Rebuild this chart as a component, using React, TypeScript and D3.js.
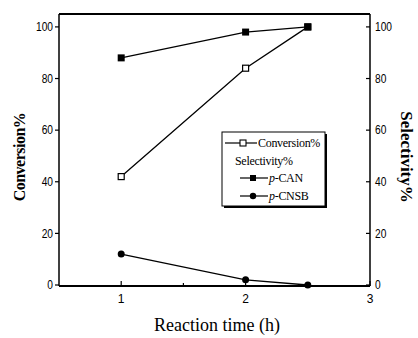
import React from "react";
import * as d3 from "d3";

const times = [1, 2, 2.5];
const conversion = [42, 84, 100];
const pCAN = [88, 98, 100];
const pCNSB = [12, 2, 0];
const yTicks = [0, 20, 40, 60, 80, 100];
const xTicks = [1, 2, 3];
const xMinor = [1.5, 2.5];

export default function App() {
  const W = 418, H = 338;
  const L = 59, R = 370, T = 14, B = 286;
  const x = d3.scaleLinear().domain([0.5, 3]).range([L, R]);
  const y = d3.scaleLinear().domain([0, 105]).range([B - 1, T]);
  const line = d3.line<number>().x((_, i) => x(times[i])).y((d) => y(d));
  const serif = "'Liberation Serif', 'Times New Roman', serif";
  const sans = "'Liberation Sans', Arial, sans-serif";
  const lg = { x: 222, y: 132, w: 103, h: 74 };
  return (
    <svg width={W} height={H} style={{ position: "absolute", left: 0, top: 0, background: "#fff" }}>
      <rect width={W} height={H} fill="#fff" />
      {/* frame */}
      <line x1={L} x2={R} y1={T} y2={T} stroke="#000" strokeWidth={2} />
      <line x1={L} x2={R} y1={B} y2={B} stroke="#000" strokeWidth={2} />
      <line x1={L} x2={L} y1={T} y2={B} stroke="#000" strokeWidth={1.5} />
      <line x1={R} x2={R} y1={T} y2={B} stroke="#000" strokeWidth={1.5} />
      {/* left ticks */}
      {yTicks.map((t) => (
        <g key={"l" + t}>
          <line x1={L - 4} x2={L} y1={y(t)} y2={y(t)} stroke="#000" strokeWidth={1.2} />
          <text x={L - 6} y={y(t)} dy="0.35em" textAnchor="end" fontFamily={sans} fontSize={12} transform={`translate(${L - 6},0) scale(0.85,1) translate(${-(L - 6)},0)`}>{t}</text>
        </g>
      ))}
      {yTicks.map((t) => (
        <g key={"r" + t}>
          <line x1={R - 4} x2={R} y1={y(t)} y2={y(t)} stroke="#000" strokeWidth={1.2} />
          <text x={R + 5} y={y(t)} dy="0.35em" textAnchor="start" fontFamily={sans} fontSize={12} transform={`translate(${R + 5},0) scale(0.85,1) translate(${-(R + 5)},0)`}>{t}</text>
        </g>
      ))}
      {xTicks.map((t) => (
        <g key={"x" + t}>
          <line x1={x(t)} x2={x(t)} y1={B} y2={B - 5} stroke="#000" strokeWidth={1.2} />
          <text x={x(t)} y={B + 17} textAnchor="middle" fontFamily={sans} fontSize={12}>{t}</text>
        </g>
      ))}
      {xMinor.map((t) => (
        <line key={"m" + t} x1={x(t)} x2={x(t)} y1={B} y2={B - 3} stroke="#000" strokeWidth={1.2} />
      ))}
      {/* lines */}
      <path d={line(conversion) || ""} fill="none" stroke="#000" strokeWidth={1.3} />
      <path d={line(pCAN) || ""} fill="none" stroke="#000" strokeWidth={1.3} />
      <path d={line(pCNSB) || ""} fill="none" stroke="#000" strokeWidth={1.3} />
      {conversion.map((v, i) => (
        <rect key={"c" + i} x={x(times[i]) - 3} y={y(v) - 3} width={6} height={6} fill="#fff" stroke="#000" strokeWidth={1.2} />
      ))}
      {pCAN.map((v, i) => (
        <rect key={"a" + i} x={x(times[i]) - 3.5} y={y(v) - 3.5} width={7} height={7} fill="#000" />
      ))}
      {pCNSB.map((v, i) => (
        <circle key={"b" + i} cx={x(times[i])} cy={y(v)} r={3.5} fill="#000" />
      ))}
      {/* legend */}
      <rect x={lg.x + 2} y={lg.y + 2} width={lg.w} height={lg.h} fill="#000" />
      <rect x={lg.x} y={lg.y} width={lg.w} height={lg.h} fill="#fff" stroke="#000" strokeWidth={1} />
      <g fontFamily={serif} fontSize={12} letterSpacing={-0.3}>
        <line x1={lg.x + 3} x2={lg.x + 35} y1={lg.y + 11} y2={lg.y + 11} stroke="#000" strokeWidth={1.2} />
        <rect x={lg.x + 18} y={lg.y + 8} width={6} height={6} fill="#fff" stroke="#000" strokeWidth={1.1} />
        <text x={lg.x + 36} y={lg.y + 15}>Conversion%</text>
        <text x={lg.x + 13} y={lg.y + 33}>Selectivity%</text>
        <line x1={lg.x + 18} x2={lg.x + 46} y1={lg.y + 46} y2={lg.y + 46} stroke="#000" strokeWidth={1.2} />
        <rect x={lg.x + 28} y={lg.y + 43} width={6} height={6} fill="#000" />
        <text x={lg.x + 47} y={lg.y + 50}><tspan fontStyle="italic">p</tspan>-CAN</text>
        <line x1={lg.x + 18} x2={lg.x + 46} y1={lg.y + 64} y2={lg.y + 64} stroke="#000" strokeWidth={1.2} />
        <circle cx={lg.x + 31} cy={lg.y + 64} r={3.2} fill="#000" />
        <text x={lg.x + 47} y={lg.y + 68}><tspan fontStyle="italic">p</tspan>-CNSB</text>
      </g>
      {/* titles */}
      <text x={217} y={331} textAnchor="middle" fontFamily={serif} fontSize={18}>Reaction time (h)</text>
      <text transform="translate(25,157) rotate(-90)" textAnchor="middle" fontFamily={serif} fontSize={16} fontWeight="bold" letterSpacing={-0.5}>Conversion%</text>
      <text transform="translate(401,157) rotate(90)" textAnchor="middle" fontFamily={serif} fontSize={17} fontWeight="bold">Selectivity%</text>
    </svg>
  );
}
